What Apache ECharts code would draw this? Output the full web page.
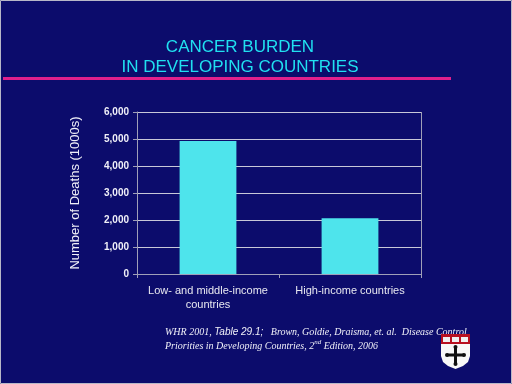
<!DOCTYPE html>
<html><head><meta charset="utf-8">
<script src="https://cdn.jsdelivr.net/npm/echarts@6/dist/echarts.min.js"></script>
<style>html,body{margin:0;padding:0;background:#0c0c6c}#c{width:512px;height:384px}</style>
</head><body><div id="c"></div>
<script>
const categories = ['Low- and middle-income\ncountries', 'High-income countries'];
const deaths = [4930, 2065];
const yTicks = [0, 1000, 2000, 3000, 4000, 5000, 6000];

const chart = echarts.init(document.getElementById('c'));
chart.setOption({
  backgroundColor: '#0c0c6c',
  animation: false,
  title: {
    text: 'CANCER BURDEN\nIN DEVELOPING COUNTRIES',
    left: 235, top: 32, textAlign: 'center',
    textStyle: {color: '#20e0f0', fontFamily: 'Liberation Sans, Arial', fontSize: 17, fontWeight: 'normal', lineHeight: 20}
  },
  grid: {left: 137, right: 91, top: 112, bottom: 110},
  xAxis: {
    type: 'category', data: categories,
    axisLine: {lineStyle: {color: '#a0a0b8', width: 1}},
    axisTick: {show: true, alignWithLabel: false, length: 4, lineStyle: {color: '#a0a0b8'}},
    axisLabel: {interval: 0, color: '#e8e8f0', fontFamily: 'Liberation Sans, Arial', fontSize: 11, lineHeight: 14, margin: 10}
  },
  yAxis: {
    type: 'value', min: 0, max: 6000, interval: 1000,
    name: 'Number of Deaths (1000s)', nameLocation: 'middle', nameGap: 55,
    nameTextStyle: {color: '#f0f0f8', fontFamily: 'Liberation Sans, Arial', fontSize: 13},
    axisLine: {show: true, lineStyle: {color: '#a0a0b8'}},
    axisTick: {show: true, length: 4, lineStyle: {color: '#a0a0b8'}},
    axisLabel: {color: '#f0f0f8', fontFamily: 'Liberation Sans, Arial', fontSize: 10, fontWeight: 'bold', margin: 8,
      formatter: v => yTicks.includes(v) ? v.toLocaleString('en-US') : ''},
    splitLine: {lineStyle: {color: '#c8c8d8', width: 1}}
  },
  series: [{
    type: 'bar', data: deaths, barWidth: '40%',
    itemStyle: {color: '#4ee4ec'}
  }],
  graphic: [
    {type: 'rect', shape: {x: 0.5, y: 0.5, width: 511, height: 383}, style: {fill: 'none', stroke: '#b8b8c8', lineWidth: 1}, silent: true},
    {type: 'rect', shape: {x: 3, y: 77, width: 448, height: 3}, style: {fill: '#e0208c'}},
    {type: 'line', shape: {x1: 421.5, y1: 112, x2: 421.5, y2: 277}, style: {stroke: '#a0a0b8', lineWidth: 1}},
    {type: 'text', left: 165, top: 327, style: {
      text: '{a|WHR 2001, }{b|Table 29.1;}{a|   Brown, Goldie, Draisma, et. al.  Disease Control}\n{a|Priorities in Developing Countries, 2}{s|nd}{a| Edition, 2006}',
      rich: {
        a: {fontFamily: 'Liberation Serif, Times New Roman', fontStyle: 'italic', fontSize: 10, fill: '#f0f0f8', lineHeight: 14},
        b: {fontFamily: 'Liberation Sans, Arial', fontStyle: 'italic', fontSize: 10, fill: '#f0f0f8', lineHeight: 14},
        s: {fontFamily: 'Liberation Serif, Times New Roman', fontStyle: 'italic', fontSize: 7, fill: '#f0f0f8', verticalAlign: 'top', lineHeight: 14}
      }}},
    {type: 'group', x: 441, y: 334, children: [
      {type: 'polygon', shape: {points: [[0,0],[29,0],[29,22],[27,28],[22,32],[14.5,35],[7,32],[2,28],[0,22]]}, style: {fill: '#f8f8f8'}},
      {type: 'rect', shape: {x: 0, y: 0, width: 29, height: 10}, style: {fill: '#b81020'}},
      {type: 'rect', shape: {x: 2, y: 3, width: 7, height: 5}, style: {fill: '#f0f0f0'}},
      {type: 'rect', shape: {x: 11, y: 3, width: 7, height: 5}, style: {fill: '#f0f0f0'}},
      {type: 'rect', shape: {x: 20, y: 3, width: 7, height: 5}, style: {fill: '#f0f0f0'}},
      {type: 'rect', shape: {x: 13, y: 13, width: 3, height: 17}, style: {fill: '#101010'}},
      {type: 'rect', shape: {x: 6, y: 19.5, width: 17, height: 3}, style: {fill: '#101010'}},
      {type: 'circle', shape: {cx: 14.5, cy: 13, r: 2}, style: {fill: '#101010'}},
      {type: 'circle', shape: {cx: 14.5, cy: 30, r: 2}, style: {fill: '#101010'}},
      {type: 'circle', shape: {cx: 6, cy: 21, r: 2}, style: {fill: '#101010'}},
      {type: 'circle', shape: {cx: 23, cy: 21, r: 2}, style: {fill: '#101010'}}
    ]}
  ]
});
</script></body></html>
